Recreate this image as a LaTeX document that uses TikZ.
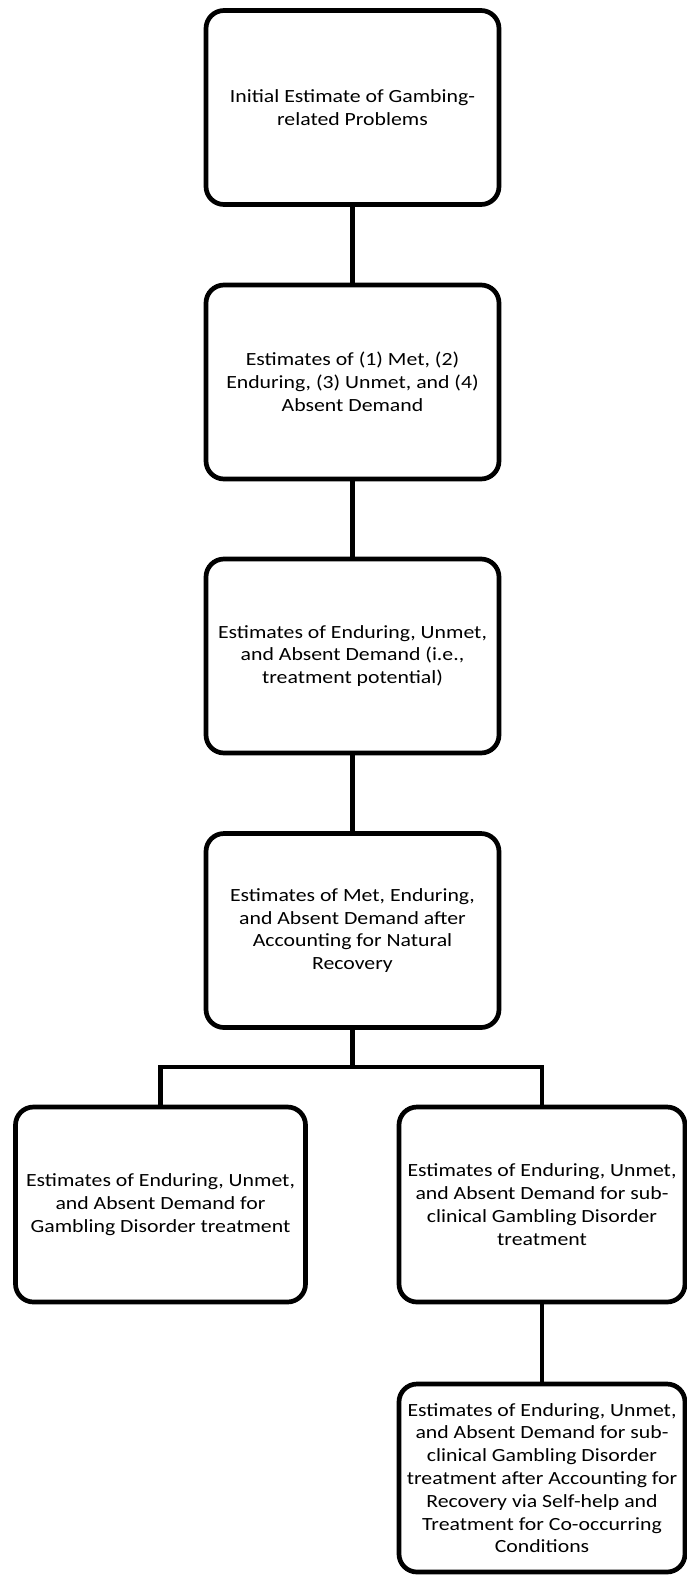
\documentclass[tikz,border=0pt]{standalone}
\usepackage{fontspec}
\setmainfont[FakeStretch=1.17]{Carlito}
\begin{document}
\begin{tikzpicture}[x=1pt,y=-1pt,
  box/.style={draw=black, line width=4.7pt, rounded corners=18pt, fill=white,
    align=center, inner sep=2pt, font=\fontsize{18.6}{22.8}\selectfont},
  topbox/.style={box, minimum width=293pt, minimum height=194pt},
  lowbox/.style={box, minimum width=288pt, minimum height=195pt},
  link/.style={draw=black, line width=4.7pt}]
\useasboundingbox (0,0) rectangle (686,1575);
\node[topbox] (b1) at (352.5,107.5) {Initial Estimate of Gambing-\\related Problems};
\node[topbox] (b2) at (352.5,382) {Estimates of (1) Met, (2)\\Enduring, (3) Unmet, and (4)\\Absent Demand};
\node[topbox] (b3) at (352.5,656) {Estimates of Enduring, Unmet,\\and Absent Demand (i.e.,\\treatment potential)};
\node[topbox] (b4) at (352.5,930.5) {Estimates of Met, Enduring,\\and Absent Demand after\\Accounting for Natural\\Recovery};
\node[lowbox, minimum width=290pt] (b5) at (160.5,1204.5) {Estimates of Enduring, Unmet,\\and Absent Demand for\\Gambling Disorder treatment};
\node[lowbox, minimum width=286pt] (b6) at (542,1204.5) {Estimates of Enduring, Unmet,\\and Absent Demand for sub-\\clinical Gambling Disorder\\treatment};
\node[lowbox, minimum width=286pt, minimum height=188pt] (b7) at (542,1478) {Estimates of Enduring, Unmet,\\and Absent Demand for sub-\\clinical Gambling Disorder\\treatment after Accounting for\\Recovery via Self-help and\\Treatment for Co-occurring\\Conditions};
\coordinate (br) at (352.5,1067);
\draw[link] (b1.south) -- (b2.north);
\draw[link] (b2.south) -- (b3.north);
\draw[link] (b3.south) -- (b4.north);
\draw[link] (b4.south) -- (br);
\draw[link] (b5.north) |- (br) -| (b6.north);
\draw[link] (b6.south) -- (b7.north);
\end{tikzpicture}
\end{document}
